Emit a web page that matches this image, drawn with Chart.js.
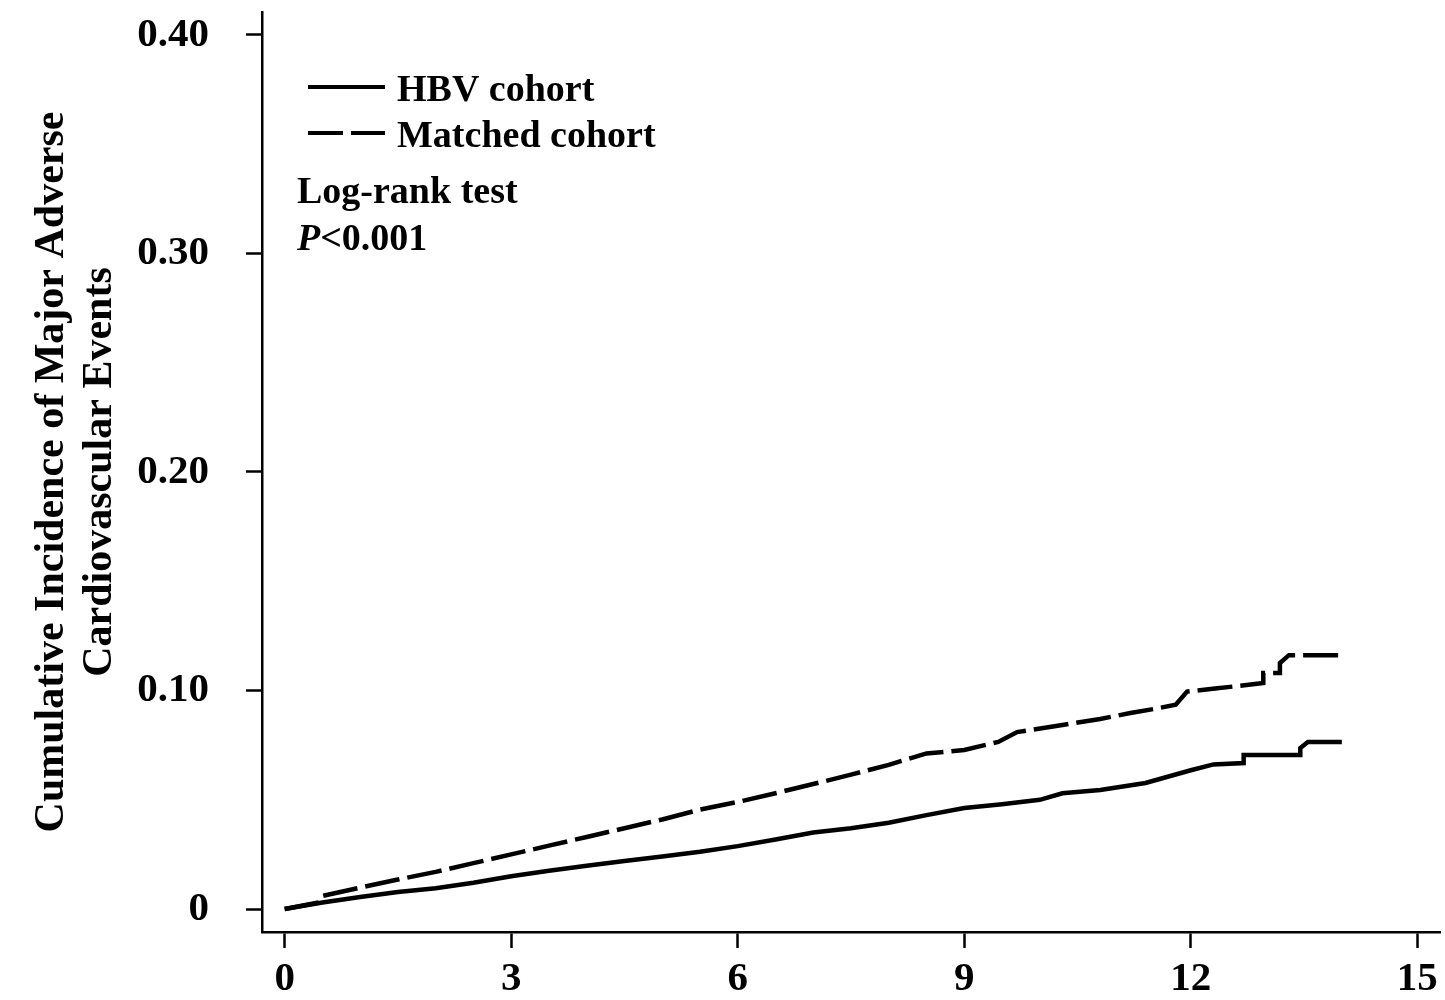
<!DOCTYPE html>
<html><head><meta charset="utf-8">
<script src="https://cdn.jsdelivr.net/npm/chart.js@4.4.1/dist/chart.umd.min.js"></script>
<style>html,body{margin:0;padding:0;background:#fff}#wrap{width:1445px;height:1000px}</style>
</head><body><div id="wrap"><canvas id="c" width="1445" height="1000"></canvas></div>
<script>
// ---- data ----
const seriesLabels = ['HBV cohort', 'Matched cohort'];
const hbvTime = [0, 0.5, 1, 1.5, 2, 2.5, 3, 3.5, 4, 4.5, 5, 5.5, 6, 6.5, 7, 7.5, 8, 8.5, 9, 9.5, 10, 10.3, 10.8, 11.4, 12, 12.3, 12.7, 12.7, 13.45, 13.45, 13.55, 14.0];
const hbvRisk = [0, 0.003, 0.0055, 0.0078, 0.0095, 0.012, 0.015, 0.0175, 0.0198, 0.022, 0.024, 0.0262, 0.0288, 0.0318, 0.035, 0.037, 0.0395, 0.043, 0.0462, 0.048, 0.050, 0.053, 0.0545, 0.0577, 0.0635, 0.0662, 0.0668, 0.0705, 0.0705, 0.0737, 0.0764, 0.0764];
const matchedTime = [0, 0.45, 0.5, 1, 1.5, 2, 2.5, 3, 3.5, 4, 4.5, 5, 5.5, 6, 6.5, 7, 7.5, 8, 8.5, 9, 9.45, 9.7, 10.3, 10.8, 11.2, 11.5, 11.8, 11.95, 12.35, 12.96, 12.96, 13.18, 13.18, 13.3, 14.0];
const matchedRisk = [0, 0.003, 0.006, 0.0098, 0.0135, 0.017, 0.021, 0.025, 0.029, 0.033, 0.037, 0.041, 0.0455, 0.049, 0.053, 0.0572, 0.0615, 0.066, 0.0712, 0.0728, 0.0765, 0.081, 0.0842, 0.087, 0.0897, 0.0915, 0.0935, 0.0995, 0.101, 0.1034, 0.108, 0.108, 0.1126, 0.1162, 0.1162];
const xTicks = [0, 3, 6, 9, 12, 15];
const yTicks = [0, 0.1, 0.2, 0.3, 0.4];
const yTitle = ['Cumulative Incidence of Major Adverse', 'Cardiovascular Events'];
const noteLines = ['Log-rank test', 'P', '<0.001'];

const SERIF = '"Liberation Serif", "Times New Roman", serif';
const toPts = (xs, ys) => xs.map((x, i) => ({x: x, y: ys[i]}));

const annotate = {
  id: 'annotate',
  afterDraw(chart) {
    const ctx = chart.ctx;
    ctx.save();
    ctx.fillStyle = '#000';
    ctx.strokeStyle = '#000';
    ctx.textBaseline = 'alphabetic';
    ctx.textAlign = 'left';
    const rows = [101, 147];
    chart.data.datasets.forEach((ds, i) => {
      const yLine = rows[i] - 14;
      ctx.lineWidth = 4;
      ctx.setLineDash(ds.borderDash || []);
      ctx.beginPath();
      ctx.moveTo(308, yLine);
      ctx.lineTo(385, yLine);
      ctx.stroke();
      ctx.setLineDash([]);
      ctx.font = 'bold 38px ' + SERIF;
      ctx.fillText(ds.label, 397, rows[i]);
    });
    ctx.font = 'bold 38px ' + SERIF;
    ctx.fillText(noteLines[0], 297, 203);
    ctx.font = 'italic bold 38px ' + SERIF;
    ctx.fillText(noteLines[1], 297, 250);
    const w = ctx.measureText(noteLines[1]).width;
    ctx.font = 'bold 38px ' + SERIF;
    ctx.fillText(noteLines[2], 297 + w, 250);
    ctx.restore();
  }
};

new Chart(document.getElementById('c'), {
  type: 'line',
  data: {
    datasets: [
      {label: seriesLabels[0], data: toPts(hbvTime, hbvRisk), borderColor: '#000', borderWidth: 4.5, pointRadius: 0, fill: false, tension: 0},
      {label: seriesLabels[1], data: toPts(matchedTime, matchedRisk), borderColor: '#000', borderWidth: 4.5, borderDash: [35, 8], pointRadius: 0, fill: false, tension: 0}
    ]
  },
  options: {
    responsive: false,
    devicePixelRatio: 1,
    animation: false,
    events: [],
    layout: {padding: {top: 12, right: 5, left: 0, bottom: 0}},
    plugins: {legend: {display: false}, tooltip: {enabled: false}, title: {display: false}},
    scales: {
      x: {
        type: 'linear', min: -0.3, max: 15.3,
        afterBuildTicks: s => { s.ticks = xTicks.map(v => ({value: v})); },
        afterFit: s => { s.height = 68; s.paddingLeft = 0; s.paddingRight = 0; },
        border: {display: true, color: '#000', width: 2.5},
        grid: {display: true, drawOnChartArea: false, drawTicks: true, tickLength: 16, tickWidth: 2.5, tickColor: '#000'},
        ticks: {color: '#000', padding: 7, maxRotation: 0, autoSkip: false, font: {family: SERIF, size: 41, weight: 'bold'}, callback: v => String(v)}
      },
      y: {
        type: 'linear', min: -0.0105, max: 0.4105,
        afterBuildTicks: s => { s.ticks = yTicks.map(v => ({value: v})); },
        afterFit: s => { s.width = 262; s.paddingTop = 0; s.paddingBottom = 0; },
        border: {display: true, color: '#000', width: 2.5},
        grid: {display: true, drawOnChartArea: false, drawTicks: true, tickLength: 16, tickWidth: 2.5, tickColor: '#000'},
        ticks: {color: '#000', padding: 37, autoSkip: false, font: {family: SERIF, size: 41, weight: 'bold'}, callback: v => v === 0 ? '0' : v.toFixed(2)},
        title: {display: true, text: yTitle, color: '#000', padding: {top: 28, bottom: 0}, font: {family: SERIF, size: 42, weight: 'bold', lineHeight: 48 / 42}}
      }
    }
  },
  plugins: [annotate]
});
</script>
</body></html>
